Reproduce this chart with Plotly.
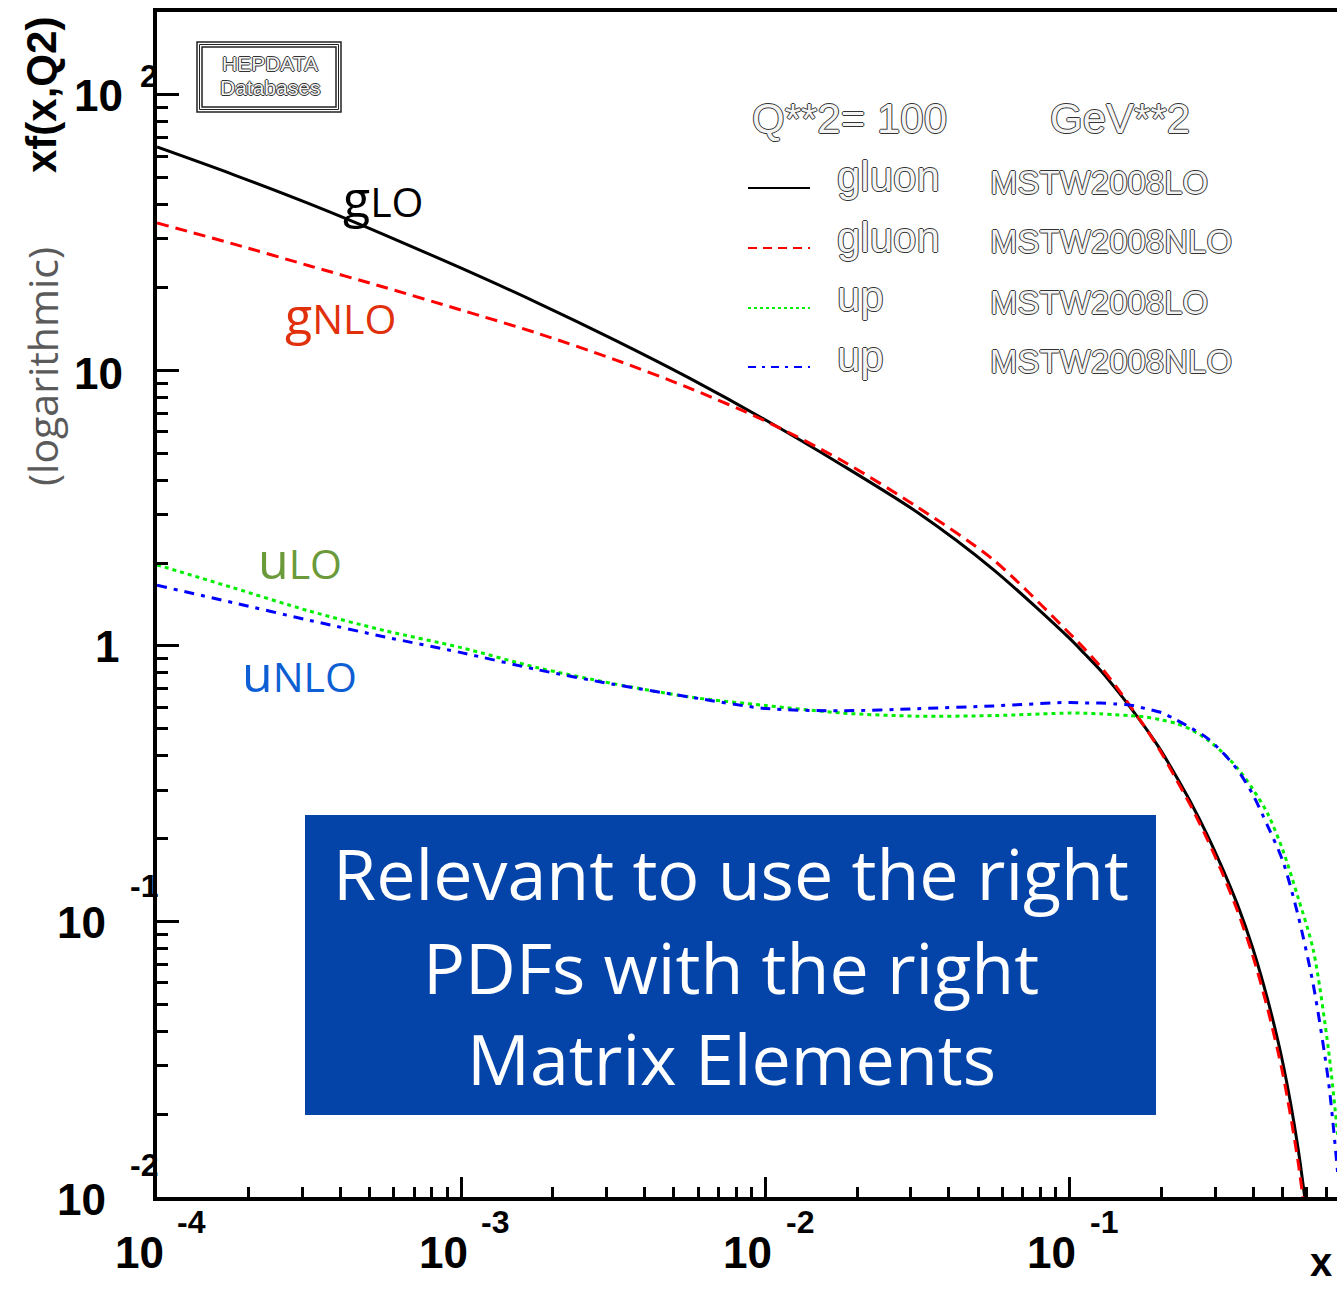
import plotly.graph_objects as go

# ---------------- data ----------------
x_vals = [0.0001, 0.000178, 0.000316, 0.000562, 0.001, 0.00178, 0.00316, 0.00562, 0.01,
          0.0178, 0.0316, 0.0562, 0.1, 0.112, 0.126, 0.141, 0.158, 0.178, 0.2, 0.224,
          0.251, 0.282, 0.316, 0.355, 0.398, 0.447, 0.501, 0.562, 0.631, 0.708, 0.759]
gluon_lo = [64.7, 51.4, 40.3, 31.0, 23.5, 17.6, 12.97, 9.38, 6.61,
            4.54, 3.05, 1.89, 1.063, 0.935, 0.816, 0.703, 0.599, 0.501, 0.4145, 0.335,
            0.2676, 0.2075, 0.1576, 0.1156, 0.0808, 0.0519, 0.0307, 0.0151, 0.0056, None, None]
gluon_nlo = [34.3, 28.8, 24.0, 20.0, 16.56, 13.65, 10.99, 8.63, 6.55,
             4.71, 3.19, 2.05, 1.108, 0.974, 0.843, 0.719, 0.605, 0.501, 0.409, 0.327,
             0.260, 0.2004, 0.1512, 0.1099, 0.0760, 0.0481, 0.0280, 0.0135, 0.0049, None, None]
up_lo = [1.97, 1.626, 1.34, 1.136, 0.986, 0.834, 0.730, 0.653, 0.608,
         0.571, 0.556, 0.559, 0.571, 0.570, 0.567, 0.563, 0.559, 0.552, 0.539, 0.523,
         0.496, 0.458, 0.413, 0.361, 0.304, 0.246, 0.1817, 0.1225, 0.0788, 0.0342, 0.0168]
up_nlo = [1.66, 1.436, 1.24, 1.078, 0.946, 0.820, 0.726, 0.653, 0.593,
          0.582, 0.592, 0.606, 0.624, 0.621, 0.621, 0.616, 0.610, 0.592, 0.573, 0.539,
          0.503, 0.464, 0.413, 0.356, 0.291, 0.222, 0.1658, 0.1055, 0.0589, 0.0262, 0.0122]

series_names = ["gluon MSTW2008LO", "gluon MSTW2008NLO", "up MSTW2008LO", "up MSTW2008NLO"]
legend_parton = ["gluon", "gluon", "up", "up"]
legend_set = ["MSTW2008LO", "MSTW2008NLO", "MSTW2008LO", "MSTW2008NLO"]

x_major = [1e-4, 1e-3, 1e-2, 1e-1]
y_major = [0.01, 0.1, 1, 10, 100]
x_exp = [-4, -3, -2, -1]
y_exp = [2, 1, 0, -1, -2]
y_mant_text = ["10", "10", "1", "10", "10"]
y_exp_text = ["2", "", "", "-1", "-2"]
x_exp_text = ["-4", "-3", "-2", "-1"]
box_lines = ["Relevant to use the right", "PDFs with the right", "Matrix Elements"]

# ---------------- layout geometry ----------------
W, H = 1337, 1293
ML, MT, MB = 157, 12, 96
PW, PH = W - ML, H - MT - MB
BOT = H - MB


def pxx(x):
    return (x - ML) / PW


def pxy(y):
    return (BOT - y) / PH


x_minor = [m * 10 ** e for e in range(-4, 0) for m in range(2, 10)]
y_minor = [m * 10 ** e for e in range(-2, 3) for m in range(2, 10)]

fig = go.Figure()
styles = [
    dict(color="black", width=3, dash="solid"),
    dict(color="#ff0000", width=3, dash="12px,7px"),
    dict(color="#00ee00", width=3, dash="4px,4px"),
    dict(color="#0000ff", width=3, dash="10px,7px,4px,7px"),
]
for name, ys, st in zip(series_names, [gluon_lo, gluon_nlo, up_lo, up_nlo], styles):
    fig.add_trace(go.Scatter(x=x_vals, y=ys, mode="lines", name=name,
                             line=dict(shape="spline", smoothing=0.8, **st),
                             connectgaps=False, hoverinfo="skip"))

ann = []
shapes = []

HEL = "Liberation Sans"
# y tick labels
y_mant_right = [125, 125, 121, 108, 108]
y_mant_dy = [1, 3, 1, 1, 2]
y_exp_dy = [-19, 0, 0, -35, -32]
for e, mt, et, mr, mdy, edy in zip(y_exp, y_mant_text, y_exp_text, y_mant_right, y_mant_dy, y_exp_dy):
    ann.append(dict(xref="paper", yref="y", x=0, y=e, xanchor="right", yanchor="middle",
                    xshift=mr - ML, yshift=-mdy, text="<b>%s</b>" % mt, showarrow=False,
                    font=dict(family=HEL, size=44, color="black")))
    if et:
        ann.append(dict(xref="paper", yref="y", x=0, y=e, xanchor="right", yanchor="middle",
                        xshift=160 - ML, yshift=-edy, text="<b>%s</b>" % et, showarrow=False,
                        font=dict(family=HEL, size=32, color="black")))
# x tick labels
for e, et in zip(x_exp, x_exp_text):
    ann.append(dict(xref="x", yref="paper", x=e, y=0, xanchor="center", yanchor="middle",
                    xshift=-18, yshift=-(1252 - BOT), text="<b>10</b>", showarrow=False,
                    font=dict(family=HEL, size=44, color="black")))
    ann.append(dict(xref="x", yref="paper", x=e, y=0, xanchor="left", yanchor="middle",
                    xshift=18, yshift=-(1222 - BOT), text="<b>%s</b>" % et, showarrow=False,
                    font=dict(family=HEL, size=32, color="black")))

# axis titles
ann.append(dict(xref="paper", yref="paper", x=pxx(1321), y=pxy(1262), xanchor="center",
                yanchor="middle", text="<b>x</b>", showarrow=False,
                font=dict(family=HEL, size=40, color="black")))
ann.append(dict(xref="paper", yref="paper", x=pxx(42), y=pxy(95), xanchor="center",
                yanchor="middle", text="<b>xf(x,Q2)</b>", textangle=-90, showarrow=False,
                font=dict(family=HEL, size=42, color="black")))
ann.append(dict(xref="paper", yref="paper", x=pxx(42), y=pxy(367), xanchor="center",
                yanchor="middle", text="(logarithmic)", textangle=-90, showarrow=False,
                font=dict(family="Open Sans", size=41, color="#5a5a5a")))

# outlined ROOT-like text
OUT = "1px 0 0 #333, -1px 0 0 #333, 0 1px 0 #333, 0 -1px 0 #333"


def otext(x, y, t, size, anchor="left"):
    ann.append(dict(xref="paper", yref="paper", x=pxx(x), y=pxy(y), xanchor=anchor,
                    yanchor="middle", text=t, showarrow=False,
                    font=dict(family=HEL, size=size, color="#f4f4f4", shadow=OUT)))


otext(270, 64, "HEPDATA", 21, "center")
otext(270, 88, "Databases", 21, "center")
otext(750, 118, "Q**2= 100", 42)
otext(1048, 118, "GeV**2", 42)
row_y = [188, 248, 308, 367]
legend_dash = ["solid", "9px,6px", "3px,3px", "8px,6px,3px,6px"]
for ry, p, s, st, dash in zip(row_y, legend_parton, legend_set, styles, legend_dash):
    otext(835, ry - 11, p, 42)
    otext(988, ry - 6, s, 33)
    shapes.append(dict(type="line", xref="paper", yref="paper", x0=pxx(748), x1=pxx(810),
                       y0=pxy(ry), y1=pxy(ry), line=dict(color=st["color"], width=2, dash=dash)))

# HEPDATA frame
for (x0, y0, x1, y1, w) in [(197, 42, 341, 112, 1.5), (199.5, 44.5, 338.5, 109.5, 1), (202, 47, 336, 107, 1.5)]:
    shapes.append(dict(type="rect", xref="paper", yref="paper", x0=pxx(x0), x1=pxx(x1),
                       y0=pxy(y0), y1=pxy(y1), line=dict(color="#222", width=w)))

# curve labels
LAB = "Open Sans"
for (x, y, big, small, col) in [(341, 198, "g", "LO", "black"), (283, 315, "g", "NLO", "#e0300c"),
                                (256, 560, "u", "LO", "#6b9a3a"), (240, 673, "u", "NLO", "#0d5fd3")]:
    ann.append(dict(xref="paper", yref="paper", x=pxx(x), y=pxy(y), xanchor="left", yanchor="middle",
                    text='%s<span style="font-size:41px">%s</span>' % (big, small), showarrow=False,
                    font=dict(family=LAB, size=50, color=col)))

# blue box
shapes.append(dict(type="rect", xref="paper", yref="paper", x0=pxx(305), x1=pxx(1156),
                   y0=pxy(815), y1=pxy(1115), fillcolor="#0443a8", line=dict(width=0), layer="above"))
for t, cy in zip(box_lines, [873, 967, 1058]):
    ann.append(dict(xref="paper", yref="paper", x=pxx(731), y=pxy(cy), xanchor="center",
                    yanchor="middle", text=t, showarrow=False,
                    font=dict(family="Open Sans", size=70, color="white")))

fig.update_layout(
    width=W, height=H, margin=dict(l=ML, r=0, t=MT, b=MB, autoexpand=False),
    paper_bgcolor="white", plot_bgcolor="white", showlegend=False,
    annotations=ann, shapes=shapes,
    xaxis=dict(type="log", range=[-4, -0.122], showgrid=False, zeroline=False,
               showline=True, linecolor="black", linewidth=4, mirror=True,
               ticks="inside", ticklen=20, tickwidth=3, tickcolor="black",
               tickmode="array", tickvals=x_major, showticklabels=False,
               minor=dict(ticks="inside", ticklen=10, tickwidth=3, tickcolor="black",
                          tickmode="array", tickvals=x_minor, showgrid=False)),
    yaxis=dict(type="log", range=[-2, 2.301], showgrid=False, zeroline=False,
               showline=True, linecolor="black", linewidth=4, mirror=False,
               ticks="inside", ticklen=22, tickwidth=3, tickcolor="black",
               tickmode="array", tickvals=y_major, showticklabels=False,
               minor=dict(ticks="inside", ticklen=11, tickwidth=3, tickcolor="black",
                          tickmode="array", tickvals=y_minor, showgrid=False)),
)

fig.write_html("out.html")
